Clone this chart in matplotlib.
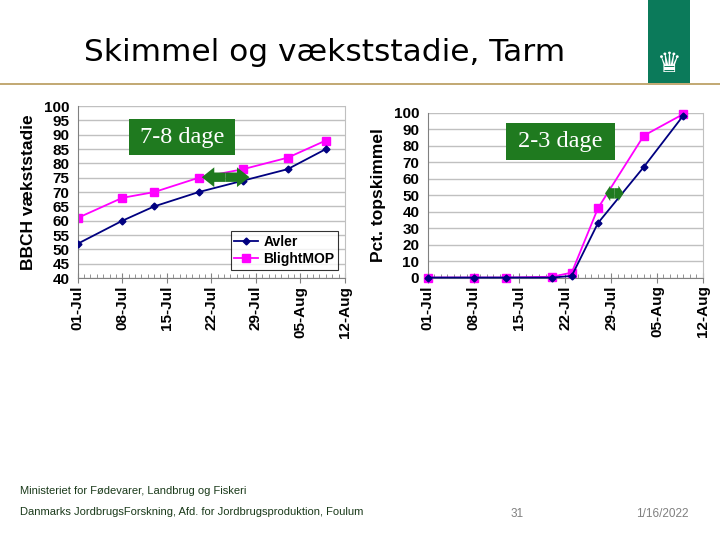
import pandas as pd
import matplotlib
matplotlib.use("Agg")
import matplotlib.pyplot as plt
import matplotlib.dates as mdates
from matplotlib.patches import Rectangle

# venstre graf: BBCH vaekststadie
bbch_datoer = ["2007-07-01", "2007-07-08", "2007-07-13", "2007-07-20", "2007-07-27", "2007-08-03", "2007-08-09"]
bbch_avler = [52, 60, 65, 70, 74, 78, 85]
bbch_blightmop = [61, 68, 70, 75, 78, 82, 88]

# hoejre graf: pct. topskimmel
skim_datoer = ["2007-07-01", "2007-07-08", "2007-07-13", "2007-07-20", "2007-07-23", "2007-07-27", "2007-08-03", "2007-08-09"]
skim_avler = [0, 0, 0, 0, 1, 33, 67, 98]
skim_blightmop = [0, 0, 0, 0.5, 3, 42, 86, 99]

tick_datoer = ["2007-07-01", "2007-07-08", "2007-07-15", "2007-07-22", "2007-07-29", "2007-08-05", "2007-08-12"]
tick_labels = ["01-Jul", "08-Jul", "15-Jul", "22-Jul", "29-Jul", "05-Aug", "12-Aug"]

plt.rcParams["font.family"] = ["Liberation Sans", "DejaVu Sans"]
green = "#1f7a1f"

fig = plt.figure(figsize=(7.2, 5.4), dpi=100)

def style_ax(ax, ymin, ymax, ystep, ylabel):
    ticks = pd.to_datetime(tick_datoer)
    ax.set_xlim(ticks[0], ticks[-1])
    ax.set_xticks(ticks)
    ax.set_xticklabels(tick_labels, rotation=90, fontsize=11, fontweight="bold")
    ax.xaxis.set_minor_locator(mdates.DayLocator(interval=1))
    ax.tick_params(axis="x", which="major", direction="inout", length=7, color="#808080", pad=2)
    ax.tick_params(axis="x", which="minor", direction="in", length=3, color="#808080")
    ax.set_ylim(ymin, ymax)
    ax.set_yticks(range(ymin, ymax + 1, ystep))
    ax.tick_params(axis="y", length=0, labelsize=11, pad=6)
    for lab in ax.get_yticklabels():
        lab.set_fontweight("bold")
    ax.yaxis.grid(True, color="#c0c0c0", lw=1)
    ax.set_axisbelow(True)
    for s in ["left", "bottom"]:
        ax.spines[s].set_color("#808080")
    for s in ["top", "right"]:
        ax.spines[s].set_color("#c0c0c0")
    ax.spines["top"].set_visible(False)
    ax.set_ylabel(ylabel, fontsize=12.5, fontweight="bold", labelpad=6)

def dage_box(ax, x0, y0, x1, y1, txt):
    ax.add_patch(Rectangle((x0, y0), x1 - x0, y1 - y0, transform=ax.transAxes,
                           facecolor=green, edgecolor="none", zorder=5, clip_on=False))
    ax.text((x0 + x1) / 2, (y0 + y1) / 2, txt, transform=ax.transAxes, ha="center", va="center",
            color="white", fontsize=17.5, family="Liberation Serif", zorder=6)

def dobbeltpil(ax, start, slut, y, stil):
    # to fyldte pile ud fra midten
    t0, t1 = pd.Timestamp(start), pd.Timestamp(slut)
    midt = t0 + (t1 - t0) / 2
    for ende in (t0, t1):
        ax.annotate("", xy=(ende, y), xytext=(midt, y),
                    arrowprops=dict(arrowstyle=stil, mutation_scale=15, fc=green, ec="none",
                                    shrinkA=0, shrinkB=0), zorder=4)

# venstre
ax1 = fig.add_axes([0.108, 0.485, 0.371, 0.3185])
d1 = pd.to_datetime(bbch_datoer)
ax1.plot(d1, bbch_avler, color="#000080", marker="D", ms=3.5, lw=1.3, label="Avler", zorder=3)
ax1.plot(d1, bbch_blightmop, color="#ff00ff", marker="s", ms=6, lw=1.3, label="BlightMOP", zorder=2)
style_ax(ax1, 40, 100, 5, "BBCH vækststadie")
dobbeltpil(ax1, "2007-07-20 12:00", "2007-07-28", 75.2,
           "simple,head_length=0.6,head_width=0.95,tail_width=0.45")
dage_box(ax1, 0.19, 0.715, 0.59, 0.925, "7-8 dage")
leg = ax1.legend(loc="lower right", bbox_to_anchor=(0.975, 0.05), frameon=True,
                 fancybox=False, edgecolor="black", borderpad=0.25, handlelength=1.7, handletextpad=0.4,
                 labelspacing=0.25, borderaxespad=0, prop={"weight": "bold", "size": 10})
leg.get_frame().set_linewidth(0.8)

# hoejre
ax2 = fig.add_axes([0.594, 0.486, 0.382, 0.3056])
d2 = pd.to_datetime(skim_datoer)
ax2.plot(d2, skim_avler, color="#000080", marker="D", ms=3.5, lw=1.3, zorder=3, clip_on=False)
ax2.plot(d2, skim_blightmop, color="#ff00ff", marker="s", ms=6, lw=1.3, zorder=2, clip_on=False)
style_ax(ax2, 0, 100, 10, "Pct. topskimmel")
dobbeltpil(ax2, "2007-07-28 02:00", "2007-07-30 22:00", 51,
           "simple,head_length=0.25,head_width=0.75,tail_width=0.5")
dage_box(ax2, 0.284, 0.713, 0.68, 0.938, "2-3 dage")

# titel og rammer
fig.text(0.451, 0.903, "Skimmel og vækststadie, Tarm", ha="center", va="center", fontsize=22.5,
         family="DejaVu Sans")
fig.add_artist(plt.Line2D([0, 1], [1 - 84 / 540, 1 - 84 / 540], color="#b8995a", lw=1.2))
fig.add_artist(Rectangle((648 / 720, 1 - 83 / 540), 42 / 720, 83 / 540, facecolor="#0b7a5a",
                         edgecolor="none", transform=fig.transFigure))
fig.text(669 / 720, 1 - 64 / 540, "\u265b", ha="center", va="center", color="white", fontsize=20,
         family="DejaVu Sans")

# bundtekst
fig.text(20 / 720, 1 - 491 / 540, "Ministeriet for Fødevarer, Landbrug og Fiskeri", fontsize=8,
         color="#1a3a1a", va="center")
fig.text(20 / 720, 1 - 512 / 540, "Danmarks JordbrugsForskning, Afd. for Jordbrugsproduktion, Foulum",
         fontsize=8, color="#1a3a1a", va="center")
fig.text(517 / 720, 1 - 514 / 540, "31", fontsize=8.5, color="#808080", ha="center", va="center")
fig.text(662 / 720, 1 - 514 / 540, "1/16/2022", fontsize=8.5, color="#808080", ha="center", va="center")

fig.savefig("out.png", dpi=100)
